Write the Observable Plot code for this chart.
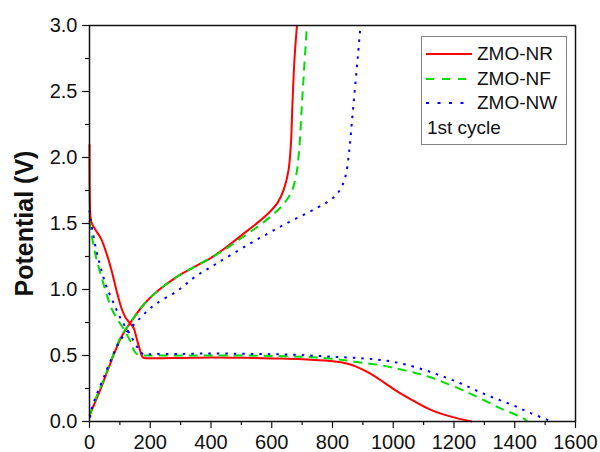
<!DOCTYPE html>
<html>
<head>
<meta charset="utf-8">
<script src="https://cdn.jsdelivr.net/npm/d3@7"></script>
<script src="https://cdn.jsdelivr.net/npm/@observablehq/plot@0.6"></script>
<style>
  body { margin: 0; background: #fff; }
  #wrap { position: relative; width: 600px; height: 452px; font-family: "Liberation Sans", Arial, sans-serif; }
  #legend { position: absolute; left: 421px; top: 36px; width: 144px; height: 107px; border: 1px solid #808080; background: #fff; font-size: 19px; color: #111; }
  #legend .row { position: absolute; left: 0; height: 22px; line-height: 22px; }
  #legend svg { position: absolute; left: 3px; top: 0; }
  #legend span { position: absolute; left: 55px; top: 0; white-space: nowrap; }
</style>
</head>
<body>
<div id="wrap"></div>
<script>
// ---- data (capacity mAh/g, potential V) ----
const nrDischargeCap = [0, 0.5, 2, 5, 10, 20, 39, 55, 72, 88, 105, 118, 131, 145, 154, 165, 176, 200, 300, 400, 500, 600, 700, 794, 840, 876, 925, 970, 1013, 1070, 1122, 1190, 1259];
const nrDischargeV   = [2.1, 1.8, 1.6, 1.52, 1.49, 1.45, 1.38, 1.28, 1.15, 1.0, 0.86, 0.79, 0.75, 0.71, 0.64, 0.55, 0.485, 0.48, 0.482, 0.485, 0.483, 0.478, 0.472, 0.458, 0.443, 0.418, 0.362, 0.295, 0.228, 0.152, 0.09, 0.037, 0.0];
const nrChargeCap = [0, 10, 39, 72, 105, 138, 180, 230, 290, 344, 400, 450, 500, 550, 590, 620, 640, 655, 663, 668, 675, 683];
const nrChargeV   = [0.045, 0.1, 0.26, 0.46, 0.64, 0.76, 0.89, 1.0, 1.1, 1.17, 1.24, 1.32, 1.41, 1.5, 1.58, 1.66, 1.76, 1.9, 2.1, 2.4, 2.75, 3.0];

const nfDischargeCap = [0, 3, 6, 16, 30, 45, 58, 72, 90, 110, 125, 138, 148, 160, 200, 300, 400, 500, 600, 700, 780, 837, 892, 958, 1013, 1070, 1122, 1188, 1243, 1298, 1353, 1400, 1430, 1440];
const nfDischargeV   = [1.52, 1.47, 1.43, 1.30, 1.17, 1.05, 0.95, 0.86, 0.78, 0.71, 0.65, 0.59, 0.53, 0.505, 0.50, 0.50, 0.50, 0.50, 0.497, 0.49, 0.48, 0.465, 0.447, 0.427, 0.40, 0.37, 0.335, 0.276, 0.222, 0.162, 0.10, 0.055, 0.022, 0.0];
const nfChargeCap = [0, 20, 40, 72, 105, 138, 180, 230, 290, 344, 400, 450, 500, 550, 600, 640, 665, 680, 690, 698, 706, 716];
const nfChargeV   = [0.04, 0.17, 0.28, 0.47, 0.65, 0.76, 0.89, 1.0, 1.1, 1.17, 1.24, 1.31, 1.39, 1.47, 1.56, 1.65, 1.74, 1.86, 2.05, 2.35, 2.65, 3.0];

const nwDischargeCap = [0, 3, 12, 22, 33, 45, 56, 75, 94, 112, 131, 148, 164, 180, 200, 300, 400, 500, 600, 700, 804, 903, 980, 1040, 1106, 1161, 1221, 1276, 1336, 1396, 1451, 1511];
const nwDischargeV   = [1.6, 1.53, 1.42, 1.30, 1.2, 1.1, 1.02, 0.92, 0.82, 0.74, 0.67, 0.6, 0.54, 0.505, 0.51, 0.512, 0.515, 0.513, 0.51, 0.503, 0.49, 0.478, 0.46, 0.432, 0.388, 0.343, 0.29, 0.232, 0.175, 0.122, 0.065, 0.01];
const nwChargeCap = [2, 9, 48, 103, 157, 212, 289, 350, 421, 530, 640, 750, 800, 826, 843, 855, 865, 875, 884, 892];
const nwChargeV   = [0.03, 0.11, 0.34, 0.62, 0.76, 0.88, 0.99, 1.1, 1.2, 1.35, 1.49, 1.62, 1.69, 1.76, 1.86, 2.05, 2.3, 2.55, 2.78, 3.0];

const seriesNames = ["ZMO-NR", "ZMO-NF", "ZMO-NW"];
const xTicks = [0, 200, 400, 600, 800, 1000, 1200, 1400, 1600];
const xMinor = [100, 300, 500, 700, 900, 1100, 1300, 1500];
const yTicks = [0.0, 0.5, 1.0, 1.5, 2.0, 2.5, 3.0];
const yMinor = [0.25, 0.75, 1.25, 1.75, 2.25, 2.75];
const legendNote = "1st cycle";

const styles = {
  "ZMO-NR": {stroke: "#ff0000", dash: null},
  "ZMO-NF": {stroke: "#00dd00", dash: "9,6"},
  "ZMO-NW": {stroke: "#0000ff", dash: "2.5,6"}
};

const toRows = (xs, ys) => xs.map((x, i) => ({x, y: ys[i]}));
const curves = [
  ["ZMO-NR", toRows(nrDischargeCap, nrDischargeV)],
  ["ZMO-NR", toRows(nrChargeCap, nrChargeV)],
  ["ZMO-NF", toRows(nfDischargeCap, nfDischargeV)],
  ["ZMO-NF", toRows(nfChargeCap, nfChargeV)],
  ["ZMO-NW", toRows(nwDischargeCap, nwDischargeV)],
  ["ZMO-NW", toRows(nwChargeCap, nwChargeV)]
];

const lineMarks = curves.map(([name, rows]) => Plot.line(rows, {
  x: "x", y: "y", curve: "catmull-rom",
  stroke: styles[name].stroke, strokeWidth: 2,
  strokeDasharray: styles[name].dash, strokeLinecap: "butt"
}));

const chart = Plot.plot({
  width: 600, height: 452,
  marginLeft: 89, marginRight: 25, marginTop: 25, marginBottom: 31,
  style: {fontFamily: "Liberation Sans, Arial, sans-serif", color: "#111", background: "#fff"},
  x: {domain: [0, 1600], label: null},
  y: {domain: [0, 3.0], label: null},
  marks: [
    ...lineMarks,
    Plot.axisX(xTicks, {tickSize: 7, tickPadding: 6, fontSize: 20, strokeWidth: 1.2, tickFormat: d3.format("d"), label: null}),
    Plot.axisX(xMinor, {tickSize: 4, text: null, strokeWidth: 1.2, label: null}),
    Plot.axisY(yTicks, {tickSize: 7, tickPadding: 5, fontSize: 20, strokeWidth: 1.2, tickFormat: d3.format(".1f"), label: null}),
    Plot.axisY(yMinor, {tickSize: 4, text: null, strokeWidth: 1.2, label: null}),
    Plot.frame({stroke: "#111", strokeWidth: 1.5}),
    Plot.text(["Potential (V)"], {frameAnchor: "left", textAnchor: "middle", rotate: -90, dx: -65, fontSize: 25, fontWeight: "bold", fill: "#111"})
  ]
});

const wrap = document.getElementById("wrap");
wrap.appendChild(chart);

// legend
const legend = document.createElement("div");
legend.id = "legend";
const rowsY = [17, 42, 66];
seriesNames.forEach((name, i) => {
  const row = document.createElement("div");
  row.className = "row";
  row.style.top = (rowsY[i] - 11) + "px";
  const st = styles[name];
  row.innerHTML = `<svg width="48" height="22"><line x1="1" x2="47" y1="11" y2="11" stroke="${st.stroke}" stroke-width="2" ${st.dash ? `stroke-dasharray="${name === "ZMO-NW" ? "3,8.5" : "8,8"}"` : ""}/></svg><span>${name}</span>`;
  legend.appendChild(row);
});
const note = document.createElement("div");
note.className = "row";
note.style.top = (91 - 11) + "px";
note.innerHTML = `<span style="left:5px">${legendNote}</span>`;
legend.appendChild(note);
wrap.appendChild(legend);
</script>
</body>
</html>
